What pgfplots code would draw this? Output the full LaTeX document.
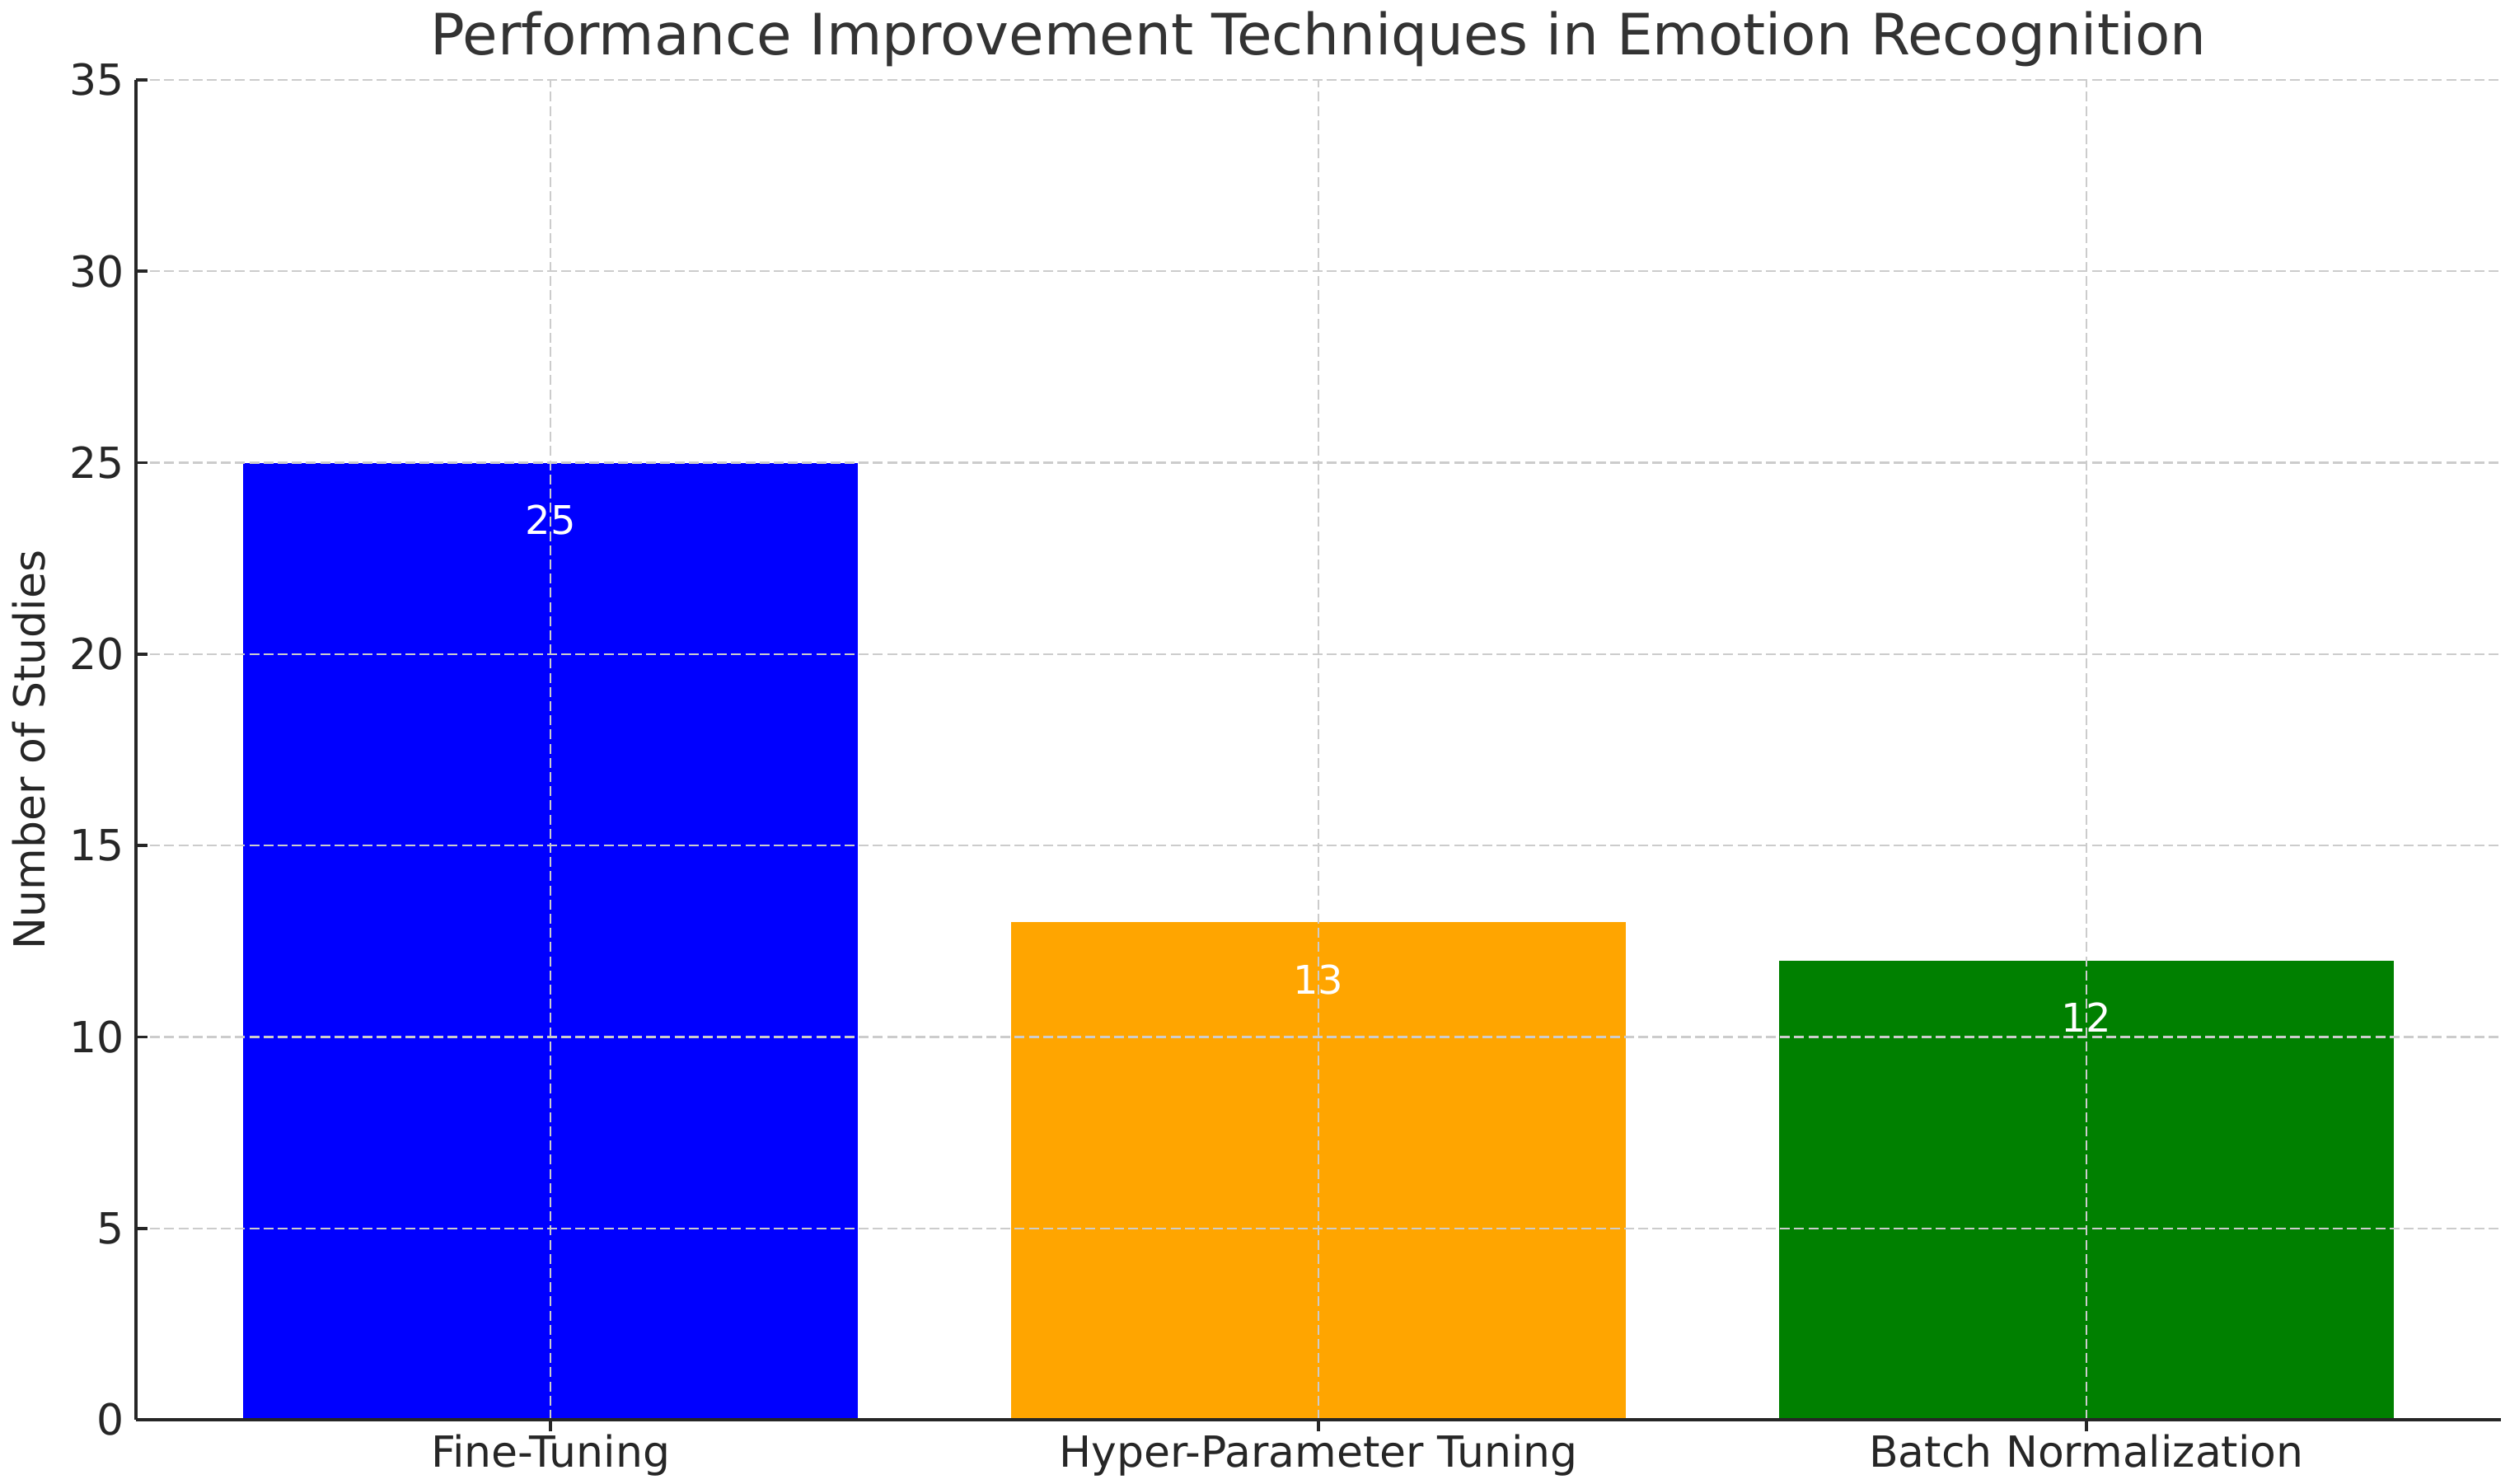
\documentclass[border=0pt]{standalone}
\usepackage{pgfplots}
\pgfplotsset{compat=1.18}
\usepackage{fontspec}
\setmainfont{DejaVu Sans}
\definecolor{txt}{HTML}{262626}
\definecolor{ttl}{HTML}{333333}
\definecolor{gridc}{HTML}{CCCCCC}
\definecolor{cblue}{HTML}{0000FF}
\definecolor{corange}{HTML}{FFA500}
\definecolor{cgreen}{HTML}{008000}

\begin{document}
\begin{tikzpicture}
\begin{axis}[
    name=ax,
    at={(0,0)}, anchor=south west,
    scale only axis,
    width=717.5pt, height=406.5pt,
    xmin=-0.54, xmax=2.54,
    ymin=0, ymax=35,
    xtick={0,1,2},
    xticklabels={Fine-Tuning, Hyper-Parameter Tuning, Batch Normalization},
    ytick={0,5,10,15,20,25,30,35},
    axis x line*=bottom, axis y line*=left,
    x axis line style={-}, y axis line style={-},
    axis line style={txt, line width=1.1pt},
    tick align=inside,
    major tick length=3.5pt,
    tick style={txt, line width=0.9pt},
    grid=major,
    major grid style={gridc, line width=0.6pt, dash pattern=on 3pt off 1.3pt},
    axis on top,
    ybar, bar width=0.8,
    /pgf/number format/assume math mode=true,
    tick label style={font=\fontsize{13}{15.6}\selectfont, text=txt},
    xticklabel style={yshift=2.5pt},
    every axis title shift=0pt,
    title={Performance Improvement Techniques in Emotion Recognition},
    title style={font=\fontsize{17.3}{20.8}\selectfont, text=ttl,
        at={(axis description cs:0.5,1)}, anchor=center, yshift=12.5pt},
    ylabel={Number of Studies},
    ylabel style={font=\fontsize{13}{15.6}\selectfont, text=txt,
        at={(axis description cs:-0.0453,0.5)}, anchor=center},
    nodes near coords,
    nodes near coords style={font=\fontsize{12}{14.4}\selectfont, text=white, anchor=center, yshift=-17.4pt},
]
\addplot[fill=cblue, draw=none, bar shift=0pt] coordinates {(0,25)};
\addplot[fill=corange, draw=none, bar shift=0pt] coordinates {(1,13)};
\addplot[fill=cgreen, draw=none, bar shift=0pt] coordinates {(2,12)};
\end{axis}
\pgfresetboundingbox
\path[use as bounding box] (ax.south west) ++(-41.25pt,-19.5pt) rectangle ++(761.5pt,450.25pt);
\end{tikzpicture}
\end{document}
